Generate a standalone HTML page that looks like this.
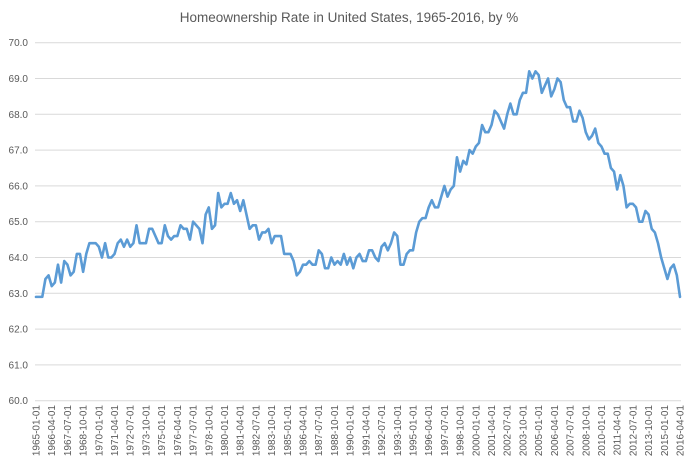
<!DOCTYPE html>
<html><head><meta charset="utf-8"><style>
html,body{margin:0;padding:0;background:#fff;}
svg{display:block;font-family:"Liberation Sans",sans-serif;}
</style></head><body>
<svg id="chart" width="693" height="463" viewBox="0 0 693 463" xmlns="http://www.w3.org/2000/svg">
<text x="349" y="22" text-anchor="middle" font-size="13.5" fill="#595959">Homeownership Rate in United States, 1965-2016, by %</text>
<g id="grid"></g>
<g id="yticks"></g>
<g id="xticks"></g>
<g id="series"></g>
</svg>
<script>
const startYear = 1965;
const values = [
62.9,62.9,62.9,63.4, 63.5,63.2,63.3,63.8, 63.3,63.9,63.8,63.5, 63.6,64.1,64.1,63.6,
64.1,64.4,64.4,64.4, 64.3,64.0,64.4,64.0, 64.0,64.1,64.4,64.5, 64.3,64.5,64.3,64.4,
64.9,64.4,64.4,64.4, 64.8,64.8,64.6,64.4, 64.4,64.9,64.6,64.5, 64.6,64.6,64.9,64.8,
64.8,64.5,65.0,64.9, 64.8,64.4,65.2,65.4, 64.8,64.9,65.8,65.4, 65.5,65.5,65.8,65.5,
65.6,65.3,65.6,65.2, 64.8,64.9,64.9,64.5, 64.7,64.7,64.8,64.4, 64.6,64.6,64.6,64.1,
64.1,64.1,63.9,63.5, 63.6,63.8,63.8,63.9, 63.8,63.8,64.2,64.1, 63.7,63.7,64.0,63.8,
63.9,63.8,64.1,63.8, 64.0,63.7,64.0,64.1, 63.9,63.9,64.2,64.2, 64.0,63.9,64.3,64.4,
64.2,64.4,64.7,64.6, 63.8,63.8,64.1,64.2, 64.2,64.7,65.0,65.1, 65.1,65.4,65.6,65.4,
65.4,65.7,66.0,65.7, 65.9,66.0,66.8,66.4, 66.7,66.6,67.0,66.9, 67.1,67.2,67.7,67.5,
67.5,67.7,68.1,68.0, 67.8,67.6,68.0,68.3, 68.0,68.0,68.4,68.6, 68.6,69.2,69.0,69.2,
69.1,68.6,68.8,69.0, 68.5,68.7,69.0,68.9, 68.4,68.2,68.2,67.8, 67.8,68.1,67.9,67.5,
67.3,67.4,67.6,67.2, 67.1,66.9,66.9,66.5, 66.4,65.9,66.3,66.0, 65.4,65.5,65.5,65.4,
65.0,65.0,65.3,65.2, 64.8,64.7,64.4,64.0, 63.7,63.4,63.7,63.8, 63.5,62.9
];
const yTicks = [60,61,62,63,64,65,66,67,68,69,70];
const labelEvery = 5;

const NS = "http://www.w3.org/2000/svg";
const x0 = 36, x1 = 680, yTop = 42.7, yBot = 400.7, yMin = 60, yMax = 70;
const n = values.length;
const xs = i => x0 + (x1 - x0) * i / (n - 1);
const ys = v => yBot - (v - yMin) / (yMax - yMin) * (yBot - yTop);
const quarterDate = i => {
  const y = startYear + Math.floor(i / 4);
  const m = ["01","04","07","10"][i % 4];
  return y + "-" + m + "-01";
};
function mk(tag, attrs, parent) {
  const e = document.createElementNS(NS, tag);
  for (const k in attrs) e.setAttribute(k, attrs[k]);
  parent.appendChild(e);
  return e;
}
const grid = document.getElementById("grid");
const yt = document.getElementById("yticks");
yTicks.forEach(t => {
  const l = mk("line", {x1: 35, x2: 681, y1: ys(t), y2: ys(t), stroke: "#d9d9d9", "stroke-width": 1}, grid);
  
  
  const tx = mk("text", {x: 28, y: ys(t) + 3.5, "text-anchor": "end", "font-size": "10", fill: "#595959"}, yt);
  
  
  tx.textContent = t.toFixed(1);
});
const xt = document.getElementById("xticks");
for (let i = 0; i < n; i += labelEvery) {
  const x = xs(i) + 3.5, y = 405;
  const tx = mk("text", {x: x, y: y, "text-anchor": "end", "font-size": "10", fill: "#595959", transform: `rotate(-90 ${x} ${y})`}, xt);
  
  
  tx.textContent = quarterDate(i);
}
const pts = values.map((v, i) => xs(i).toFixed(2) + "," + ys(v).toFixed(2)).join(" ");
const pl = mk("polyline", {points: pts, fill: "none", stroke: "#5b9bd5", "stroke-width": 2.6, "stroke-linejoin": "round", "stroke-linecap": "round"}, document.getElementById("series"));


</script>
</body></html>
